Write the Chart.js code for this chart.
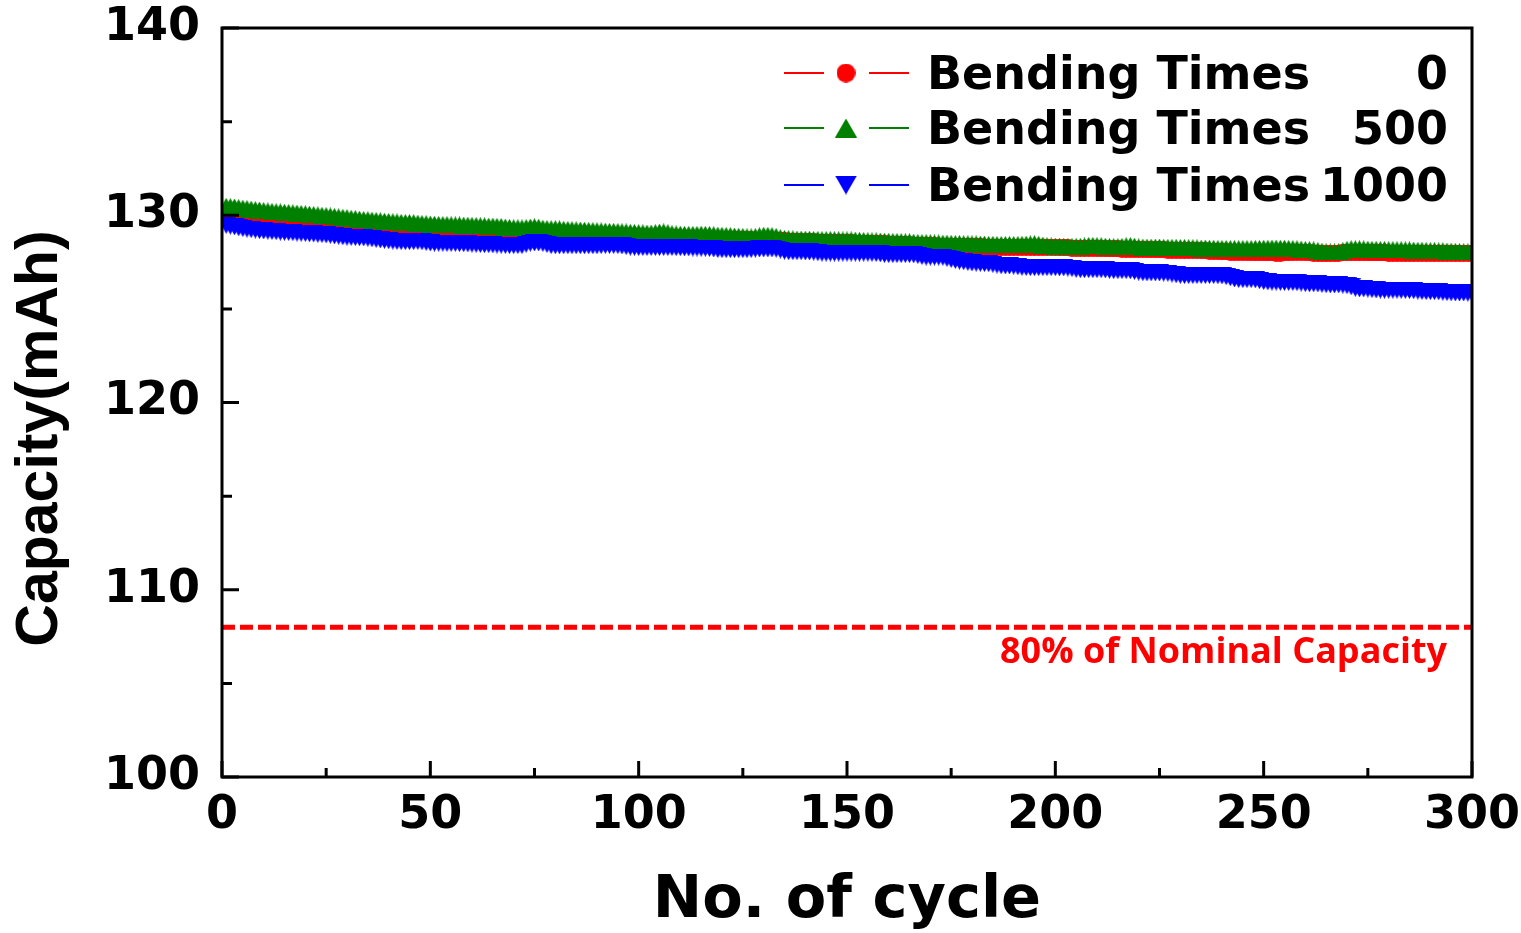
<!DOCTYPE html>
<html><head><meta charset="utf-8">
<script src="https://cdn.jsdelivr.net/npm/chart.js@4.4.0/dist/chart.umd.min.js"></script>
<style>html,body{margin:0;padding:0;background:#fff;overflow:hidden}</style>
</head><body>
<canvas id="c" width="1521" height="933"></canvas>
<script>
// ---------- data ----------
const cycles = Array.from({length: 300}, (_, i) => i + 1);
const seriesLabels = ['Bending Times 0', 'Bending Times 500', 'Bending Times 1000'];
const legendPrefix = 'Bending Times';
const legendNumbers = ['0', '500', '1000'];
const xTicks = [0, 50, 100, 150, 200, 250, 300];
const yTicks = [100, 110, 120, 130, 140];
const xTitle = 'No. of cycle';
const yTitle = 'Capacity(mAh)';
const limitValue = 108;
const limitLabel = '80% of Nominal Capacity';

const bend0 = [
129.95,129.93,129.91,129.89,129.87,129.85,129.83,129.81,129.80,129.78,
129.76,129.74,129.72,129.70,129.69,129.67,129.65,129.64,129.62,129.60,
129.59,129.57,129.56,129.54,129.53,129.51,129.50,129.48,129.47,129.45,
129.44,129.43,129.42,129.40,129.39,129.38,129.37,129.35,129.34,129.33,
129.32,129.31,129.30,129.29,129.28,129.27,129.26,129.25,129.24,129.23,
129.22,129.21,129.20,129.19,129.18,129.17,129.16,129.15,129.14,129.13,
129.12,129.11,129.10,129.10,129.09,129.08,129.07,129.07,129.06,129.05,
129.04,129.04,129.03,129.02,129.02,129.01,129.00,129.00,128.99,128.98,
128.98,128.97,128.96,128.96,128.95,128.94,128.93,128.93,128.92,128.91,
128.91,128.90,128.89,128.89,128.88,128.88,128.87,128.86,128.86,128.85,
128.84,128.84,128.83,128.82,128.82,128.81,128.80,128.80,128.79,128.78,
128.78,128.77,128.76,128.76,128.75,128.74,128.74,128.73,128.72,128.72,
128.71,128.71,128.70,128.69,128.69,128.68,128.68,128.67,128.66,128.66,
128.65,128.65,128.64,128.63,128.63,128.62,128.61,128.61,128.60,128.59,
128.59,128.58,128.57,128.57,128.56,128.55,128.55,128.54,128.53,128.53,
128.52,128.51,128.51,128.50,128.49,128.49,128.48,128.47,128.47,128.46,
128.45,128.45,128.44,128.43,128.42,128.41,128.40,128.39,128.38,128.37,
128.36,128.35,128.35,128.34,128.34,128.33,128.33,128.32,128.32,128.31,
128.31,128.31,128.30,128.30,128.30,128.30,128.30,128.30,128.30,128.29,
128.29,128.29,128.29,128.28,128.28,128.28,128.28,128.28,128.28,128.27,
128.27,128.26,128.26,128.25,128.25,128.25,128.24,128.23,128.23,128.22,
128.22,128.21,128.21,128.20,128.20,128.19,128.19,128.18,128.18,128.18,
128.17,128.17,128.16,128.16,128.15,128.15,128.14,128.14,128.13,128.13,
128.13,128.12,128.12,128.12,128.11,128.10,128.09,128.08,128.06,128.05,
128.04,128.03,128.02,128.02,128.01,128.01,128.00,128.00,128.00,127.99,
127.99,127.99,127.98,127.98,127.99,128.00,128.01,128.02,128.02,128.01,
128.00,127.98,127.96,127.95,127.95,127.96,127.97,127.98,127.99,128.00,
128.00,128.00,128.00,128.00,127.99,127.99,127.99,127.99,127.99,127.98,
127.98,127.98,127.98,127.98,127.98,127.98,127.98,127.98,127.98,127.98,
127.98,127.98,127.98,127.98,127.98,127.98,127.98,127.98,127.98,127.98
];

const bend500 = [
130.48,130.46,130.44,130.41,130.38,130.36,130.33,130.30,130.28,130.25,
130.23,130.21,130.19,130.18,130.16,130.15,130.13,130.12,130.10,130.08,
130.06,130.04,130.02,130.00,129.98,129.96,129.93,129.91,129.89,129.87,
129.84,129.82,129.79,129.77,129.76,129.74,129.72,129.70,129.68,129.67,
129.65,129.64,129.62,129.61,129.61,129.60,129.58,129.56,129.55,129.53,
129.52,129.51,129.50,129.50,129.49,129.48,129.48,129.47,129.47,129.46,
129.45,129.44,129.43,129.42,129.42,129.41,129.40,129.37,129.35,129.33,
129.33,129.32,129.34,129.37,129.38,129.36,129.31,129.29,129.28,129.28,
129.27,129.25,129.24,129.23,129.22,129.21,129.20,129.19,129.18,129.17,
129.16,129.15,129.14,129.14,129.13,129.12,129.11,129.09,129.08,129.07,
129.06,129.05,129.05,129.07,129.10,129.11,129.07,129.02,129.00,128.99,
128.98,128.98,128.98,128.98,128.99,128.98,128.97,128.96,128.94,128.93,
128.92,128.91,128.89,128.88,128.87,128.85,128.84,128.86,128.90,128.93,
128.93,128.91,128.87,128.80,128.76,128.75,128.74,128.73,128.73,128.72,
128.72,128.71,128.71,128.70,128.70,128.70,128.69,128.69,128.68,128.68,
128.68,128.67,128.66,128.65,128.64,128.63,128.63,128.62,128.61,128.61,
128.60,128.60,128.59,128.58,128.58,128.56,128.55,128.54,128.54,128.53,
128.52,128.52,128.51,128.51,128.50,128.49,128.49,128.48,128.48,128.47,
128.47,128.46,128.46,128.45,128.45,128.44,128.44,128.44,128.44,128.44,
128.44,128.45,128.46,128.47,128.48,128.45,128.41,128.38,128.36,128.35,
128.35,128.34,128.34,128.34,128.34,128.34,128.36,128.39,128.39,128.38,
128.37,128.35,128.33,128.32,128.32,128.34,128.37,128.38,128.35,128.31,
128.30,128.30,128.30,128.30,128.30,128.29,128.29,128.29,128.29,128.28,
128.28,128.27,128.27,128.26,128.25,128.25,128.24,128.24,128.23,128.23,
128.23,128.22,128.22,128.22,128.22,128.22,128.22,128.23,128.23,128.24,
128.24,128.25,128.25,128.24,128.24,128.23,128.22,128.21,128.19,128.17,
128.16,128.15,128.12,128.08,128.05,128.04,128.04,128.06,128.12,128.18,
128.21,128.21,128.21,128.20,128.19,128.18,128.18,128.17,128.17,128.16,
128.16,128.16,128.16,128.15,128.15,128.14,128.13,128.13,128.12,128.11,
128.11,128.10,128.10,128.09,128.08,128.07,128.06,128.05,128.05,128.04
];

const bend1000 = [
129.46,129.42,129.38,129.33,129.29,129.26,129.23,129.21,129.18,129.16,
129.15,129.13,129.12,129.10,129.09,129.08,129.07,129.05,129.04,129.03,
129.01,129.00,128.98,128.97,128.95,128.93,128.90,128.88,128.85,128.83,
128.82,128.81,128.80,128.79,128.77,128.74,128.71,128.68,128.66,128.64,
128.62,128.60,128.59,128.59,128.59,128.59,128.60,128.58,128.55,128.52,
128.51,128.51,128.51,128.50,128.50,128.50,128.49,128.48,128.47,128.46,
128.45,128.44,128.43,128.43,128.42,128.41,128.40,128.39,128.38,128.38,
128.38,128.38,128.45,128.51,128.52,128.52,128.50,128.44,128.38,128.37,
128.37,128.37,128.37,128.37,128.37,128.37,128.37,128.37,128.37,128.37,
128.38,128.39,128.39,128.39,128.38,128.36,128.33,128.30,128.29,128.28,
128.28,128.28,128.28,128.28,128.28,128.28,128.28,128.28,128.27,128.27,
128.26,128.26,128.25,128.25,128.24,128.24,128.23,128.20,128.17,128.16,
128.16,128.16,128.16,128.16,128.16,128.16,128.17,128.19,128.20,128.20,
128.20,128.20,128.19,128.14,128.08,128.05,128.05,128.05,128.05,128.04,
128.04,128.03,128.00,127.98,127.98,127.98,127.98,127.98,127.98,127.98,
127.98,127.98,127.98,127.98,127.98,127.97,127.96,127.94,127.91,127.90,
127.90,127.90,127.90,127.90,127.90,127.89,127.85,127.80,127.77,127.77,
127.77,127.77,127.76,127.70,127.64,127.59,127.55,127.52,127.48,127.45,
127.44,127.43,127.42,127.41,127.38,127.34,127.30,127.29,127.29,127.28,
127.25,127.22,127.21,127.20,127.20,127.20,127.20,127.20,127.20,127.20,
127.19,127.19,127.18,127.15,127.11,127.09,127.09,127.09,127.09,127.09,
127.09,127.08,127.06,127.04,127.04,127.04,127.04,127.03,127.00,126.96,
126.93,126.92,126.92,126.92,126.92,126.91,126.90,126.86,126.82,126.79,
126.78,126.78,126.78,126.78,126.78,126.78,126.78,126.78,126.77,126.76,
126.72,126.66,126.60,126.57,126.56,126.56,126.56,126.55,126.51,126.46,
126.44,126.43,126.43,126.42,126.41,126.41,126.41,126.40,126.38,126.35,
126.34,126.34,126.33,126.31,126.29,126.28,126.28,126.28,126.27,126.24,
126.18,126.10,126.07,126.07,126.06,126.03,126.01,126.00,126.00,126.00,
126.00,126.00,125.99,125.99,125.98,125.97,125.95,125.93,125.92,125.92,
125.92,125.91,125.89,125.87,125.86,125.85,125.85,125.85,125.84,125.84
];

// ---------- styling ----------
const COLORS = ['#ff0000', '#008000', '#0000ff'];
const TICK_FONT = "'DejaVu Sans'";

function makeMarker(kind, color, w, h) {
  const c = document.createElement('canvas');
  c.width = w; c.height = h;
  const g = c.getContext('2d');
  g.fillStyle = color;
  g.beginPath();
  if (kind === 'circle') g.arc(w / 2, h / 2, Math.min(w, h) / 2, 0, Math.PI * 2);
  else if (kind === 'up') { g.moveTo(w / 2, 0); g.lineTo(w, h); g.lineTo(0, h); }
  else { g.moveTo(0, 0); g.lineTo(w, 0); g.lineTo(w / 2, h); }
  g.closePath();
  g.fill();
  return c;
}
const plotMarkers = [
  makeMarker('circle', COLORS[0], 17, 17),
  makeMarker('up', COLORS[1], 19, 17),
  makeMarker('down', COLORS[2], 19, 17)
];
const legendMarkers = [
  makeMarker('circle', COLORS[0], 19, 19),
  makeMarker('up', COLORS[1], 22, 19),
  makeMarker('down', COLORS[2], 22, 19)
];

const toXY = arr => arr.map((v, i) => ({x: cycles[i], y: v}));
const seriesValues = [bend0, bend500, bend1000];
const drawOrder = [3, 2, 1];

const datasets = seriesValues.map((vals, k) => ({
  label: seriesLabels[k],
  data: toXY(vals),
  borderColor: COLORS[k],
  backgroundColor: COLORS[k],
  borderWidth: 1.5,
  pointStyle: plotMarkers[k],
  pointRadius: 8,
  pointHoverRadius: 8,
  tension: 0,
  clip: 0,
  order: drawOrder[k]
}));
datasets.push({
  label: limitLabel,
  data: [{x: xTicks[0], y: limitValue}, {x: xTicks[xTicks.length - 1], y: limitValue}],
  borderColor: '#ff0000',
  borderWidth: 5,
  borderDash: [13, 5],
  pointRadius: 0,
  clip: 0,
  order: 4
});

const zeroPad = s => { s.paddingTop = 0; s.paddingBottom = 0; s.paddingLeft = 0; s.paddingRight = 0; };

const decor = {
  id: 'decor',
  afterDatasetsDraw(chart) {
    const {ctx, chartArea: a, scales: {x, y}} = chart;
    ctx.save();
    // frame
    ctx.strokeStyle = '#000';
    ctx.lineWidth = 3;
    ctx.strokeRect(a.left, a.top, a.right - a.left, a.bottom - a.top);
    // inward ticks (major + minor)
    ctx.beginPath();
    xTicks.forEach((v, i) => {
      const px = x.getPixelForValue(v);
      ctx.moveTo(px, a.bottom); ctx.lineTo(px, a.bottom - 16);
      if (i < xTicks.length - 1) {
        const pm = x.getPixelForValue((v + xTicks[i + 1]) / 2);
        ctx.moveTo(pm, a.bottom); ctx.lineTo(pm, a.bottom - 9);
      }
    });
    yTicks.forEach((v, i) => {
      const py = y.getPixelForValue(v);
      ctx.moveTo(a.left, py); ctx.lineTo(a.left + 17, py);
      if (i < yTicks.length - 1) {
        const pm = y.getPixelForValue((v + yTicks[i + 1]) / 2);
        ctx.moveTo(a.left, pm); ctx.lineTo(a.left + 10, pm);
      }
    });
    ctx.stroke();

    // limit label
    ctx.fillStyle = '#ff0000';
    ctx.font = "bold 36px 'Open Sans'";
    ctx.textAlign = 'right';
    ctx.textBaseline = 'alphabetic';
    ctx.fillText(limitLabel, a.right - 25, y.getPixelForValue(limitValue) + 36);

    // legend
    const rowY = [a.top + 45, a.top + 100, a.top + 157];
    const mx = a.left + 624;
    ctx.font = "bold 46px 'DejaVu Sans'";
    rowY.forEach((ry, k) => {
      ctx.strokeStyle = COLORS[k];
      ctx.lineWidth = 2;
      ctx.beginPath();
      ctx.moveTo(mx - 62, ry); ctx.lineTo(mx - 22, ry);
      ctx.moveTo(mx + 23, ry); ctx.lineTo(mx + 63, ry);
      ctx.stroke();
      const m = legendMarkers[k];
      ctx.drawImage(m, mx - m.width / 2, ry - m.height / 2);
      ctx.fillStyle = '#000';
      ctx.textAlign = 'left';
      ctx.fillText(legendPrefix, a.left + 705, ry + 16);
      ctx.textAlign = 'right';
      ctx.fillText(legendNumbers[k], a.right - 24, ry + 16);
    });

    // y title
    ctx.save();
    ctx.translate(57, (a.top + a.bottom) / 2 + 36);
    ctx.rotate(-Math.PI / 2);
    ctx.fillStyle = '#000';
    ctx.font = "bold 59px 'Liberation Sans'";
    ctx.textAlign = 'center';
    ctx.textBaseline = 'alphabetic';
    ctx.fillText(yTitle, 0, 0);
    ctx.restore();
    ctx.restore();
  }
};

new Chart(document.getElementById('c'), {
  type: 'line',
  data: {datasets},
  options: {
    responsive: false,
    animation: false,
    devicePixelRatio: 1,
    events: [],
    layout: {padding: {top: 28, right: 49, bottom: 0, left: 0}},
    plugins: {legend: {display: false}, tooltip: {enabled: false}},
    scales: {
      x: {
        type: 'linear', min: xTicks[0], max: xTicks[xTicks.length - 1],
        afterBuildTicks: s => { s.ticks = xTicks.map(v => ({value: v})); },
        afterFit: s => { s.height = 156; zeroPad(s); },
        grid: {display: false, drawTicks: false},
        border: {display: false},
        ticks: {color: '#000', padding: 11, maxRotation: 0, autoSkip: false,
          font: {family: TICK_FONT, size: 46, weight: 'bold', lineHeight: 1.2}},
        title: {display: true, text: xTitle, color: '#000', padding: {top: 0, bottom: 2},
          font: {family: TICK_FONT, size: 59, weight: 'bold', lineHeight: 1}}
      },
      y: {
        type: 'linear', min: yTicks[0], max: yTicks[yTicks.length - 1],
        afterBuildTicks: s => { s.ticks = yTicks.map(v => ({value: v})); },
        afterFit: s => { s.width = 222; zeroPad(s); },
        grid: {display: false, drawTicks: false},
        border: {display: false},
        ticks: {color: '#000', padding: 22,
          font: {family: TICK_FONT, size: 46, weight: 'bold', lineHeight: 1.2}},
        title: {display: false, text: yTitle}
      }
    }
  },
  plugins: [decor]
});
</script>
</body></html>
